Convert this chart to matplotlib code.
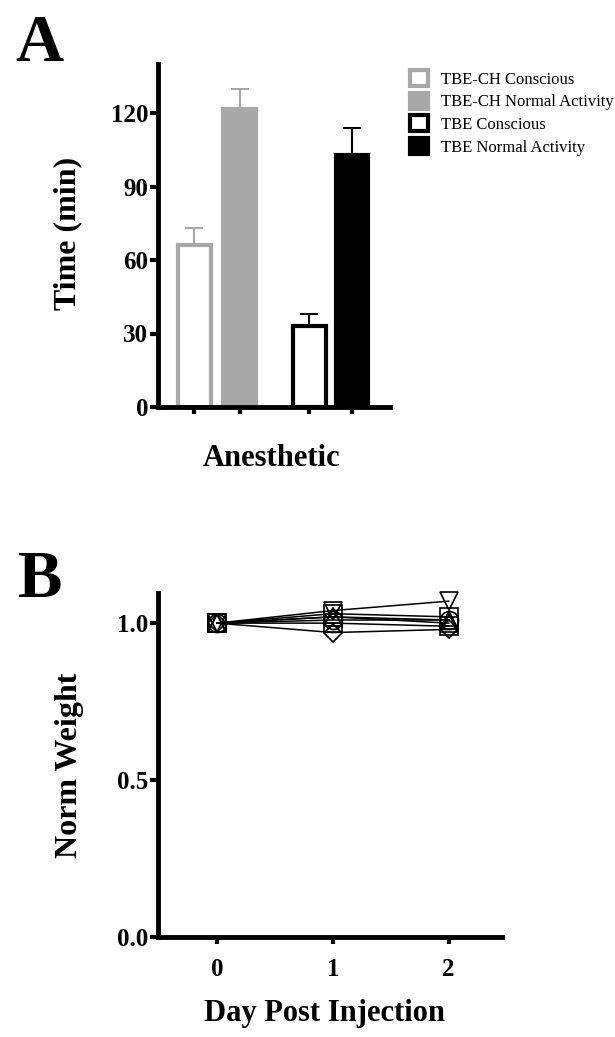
import numpy as np
import matplotlib
matplotlib.use("Agg")
import matplotlib.pyplot as plt
from matplotlib.patches import Patch

plt.rcParams['font.family'] = ['Liberation Serif', 'DejaVu Serif']

# ----------------------------
# Dados - painel A
# ----------------------------
grupos = ['TBE-CH Conscious', 'TBE-CH Normal Activity', 'TBE Conscious', 'TBE Normal Activity']
tempo_media = [66, 121.5, 33, 103]
tempo_erro = [7, 8.5, 5, 11]

# ----------------------------
# Dados - painel B
# ----------------------------
dias = [0, 1, 2]
peso_v = [1.0, 1.04, 1.07]
peso_d = [1.0, 0.97, 0.98]
peso_s1 = [1.0, 1.03, 1.02]
peso_t1 = [1.0, 1.02, 1.0]
peso_o = [1.0, 1.01, 1.01]
peso_s2 = [1.0, 1.0, 0.99]
peso_t2 = [1.0, 1.02, 1.01]

cinza = '#a8a8a8'
W, H = 615, 1037
fig = plt.figure(figsize=(W / 100, H / 100), dpi=100)

def fx(px):
    return px / W

def fy(py):
    return 1 - py / H

# ----------------------------
# Painel A
# ----------------------------
axA = fig.add_axes([fx(158), fy(407), fx(390 - 158), fy(64) - fy(407)])
pos = np.array([0, 1, 2.55, 3.5])
faces = ['white', cinza, 'white', 'black']
edges = [cinza, cinza, 'black', 'black']
for i in range(4):
    axA.bar(pos[i], tempo_media[i], width=0.72, color=faces[i], edgecolor=edges[i],
            linewidth=3, zorder=2)
    axA.errorbar(pos[i], tempo_media[i], yerr=[[0], [tempo_erro[i]]], color=edges[i],
                 elinewidth=1.5, capsize=6.5, capthick=1.5, zorder=1)

axA.set_xlim(-0.81, 4.34)
axA.set_ylim(0, 140)
axA.set_yticks([0, 30, 60, 90, 120])
axA.set_xticks(pos)
axA.set_xticklabels([])

# ----------------------------
# Painel B
# ----------------------------
axB = fig.add_axes([fx(158), fy(937), fx(502 - 158), fy(593) - fy(937)])
series = [(peso_v, 'v'), (peso_d, 'D'), (peso_s1, 's'), (peso_t1, '^'),
          (peso_o, 'o'), (peso_s2, 's'), (peso_t2, '^')]
for vals, mk in series:
    ms = 9 if mk == 'D' else 13
    axB.plot(dias, vals, color='black', linewidth=1.1, marker=mk, markersize=ms,
             markerfacecolor='none', markeredgecolor='black', markeredgewidth=1.2,
             clip_on=False)

axB.set_xlim(-0.51, 2.46)
axB.set_ylim(0, 1.096)
axB.set_yticks([0.0, 0.5, 1.0])
axB.set_yticklabels(['0.0', '0.5', '1.0'])
axB.set_xticks(dias)

# estilo comum dos eixos
for ax in [axA, axB]:
    for s in ['top', 'right']:
        ax.spines[s].set_visible(False)
    for s in ['left', 'bottom']:
        ax.spines[s].set_linewidth(3.5)
    ax.tick_params(axis='y', direction='out', length=6, width=3, pad=1, labelsize=18)
    ax.tick_params(axis='x', direction='out', length=5, width=3, pad=10, labelsize=18)
    for lab in ax.get_xticklabels() + ax.get_yticklabels():
        lab.set_fontweight('bold')

# ----------------------------
# Textos
# ----------------------------
fig.text(fx(15), fy(61), 'A', fontsize=48, fontweight='bold', ha='left', va='baseline')
fig.text(fx(18), fy(597), 'B', fontsize=48, fontweight='bold', ha='left', va='baseline')
fig.text(fx(68), fy(233), 'Time (min)', fontsize=23, fontweight='bold', rotation=90,
         ha='center', va='center')
fig.text(fx(272), fy(459), 'Anesthetic', fontsize=22, fontweight='bold', ha='center', va='center')
fig.text(fx(70), fy(765), 'Norm Weight', fontsize=23, fontweight='bold', rotation=90,
         ha='center', va='center')
fig.text(fx(325), fy(1013), 'Day Post Injection', fontsize=22, fontweight='bold',
         ha='center', va='center')

# ----------------------------
# Legenda
# ----------------------------
handles = [Patch(facecolor=faces[i], edgecolor=edges[i], linewidth=3, label=grupos[i])
           for i in range(4)]
fig.legend(handles=handles, loc='upper left', bbox_to_anchor=(fx(410), fy(70)),
           bbox_transform=fig.transFigure, frameon=False, fontsize=12,
           handlelength=1.1, handleheight=1.1, handletextpad=0.75, labelspacing=0.3,
           borderpad=0, borderaxespad=0)

fig.savefig('out.png', dpi=100)
